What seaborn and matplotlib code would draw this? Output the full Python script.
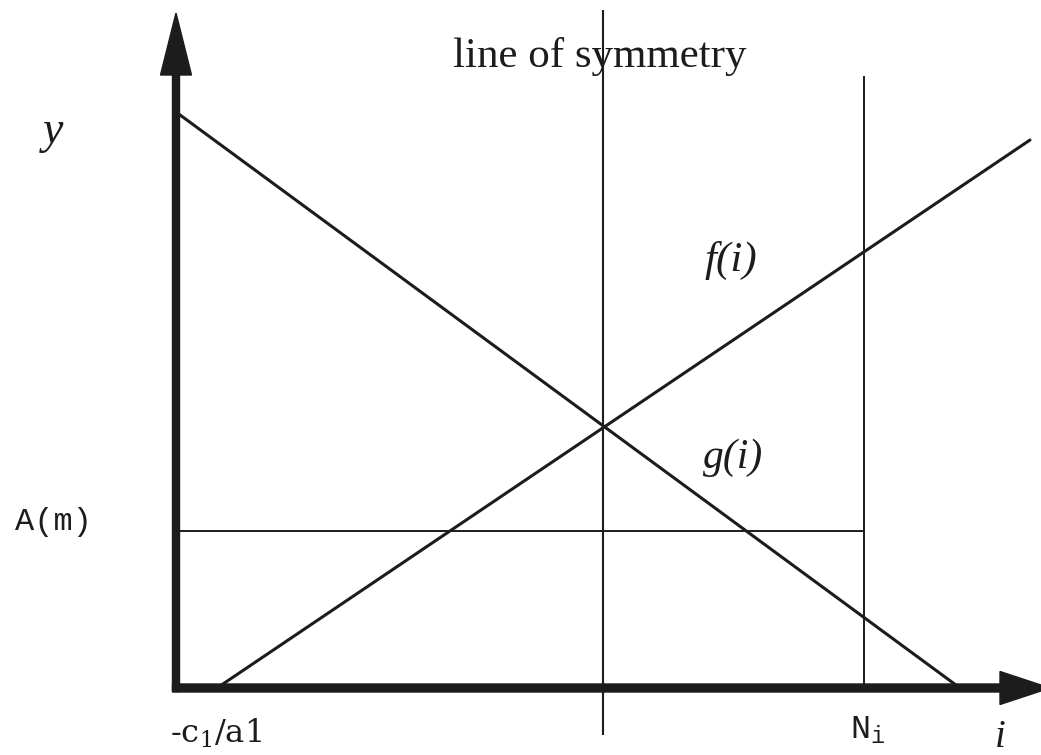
import matplotlib
matplotlib.use('Agg')
import matplotlib.pyplot as plt
import seaborn as sns

# diagram values (i along the horizontal axis, y up)
g_i = [0.0, 7.84]
g_y = [5.76, 0.0]
f_i = [0.41, 8.54]
f_y = [0.0, 5.48]

sym_i = 4.27
sym_y = [-0.47, 6.78]
N_i = 6.88
N_top = 6.12
A_m = 1.57

y_axis_top = 6.75
i_axis_end = 8.74

sns.set_theme(style='white')
plt.rcParams['font.family'] = ['Liberation Serif', 'DejaVu Serif']
plt.rcParams['mathtext.fontset'] = 'custom'
plt.rcParams['mathtext.rm'] = 'DejaVu Serif'
plt.rcParams['mathtext.tt'] = 'Liberation Mono'

ink = '#1c1c1c'

fig = plt.figure(figsize=(10.41, 7.55), dpi=100)
ax = fig.add_axes([0, 0, 1, 1])
ax.set_xlim(-1.76, 8.65)
ax.set_ylim(-0.67, 6.88)
ax.axis('off')

# f(i) and g(i)
sns.lineplot(x=f_i, y=f_y, color=ink, lw=2.2, ax=ax, estimator=None, sort=False)
sns.lineplot(x=g_i, y=g_y, color=ink, lw=2.2, ax=ax, estimator=None, sort=False)

# line of symmetry, N_i and A(m)
ax.vlines(sym_i, sym_y[0], sym_y[1], color=ink, lw=1.5)
ax.vlines(N_i, 0, N_top, color=ink, lw=1.4)
ax.hlines(A_m, 0, N_i, color=ink, lw=1.4)

# axes with arrow heads
ax.arrow(0, -0.035, 0, y_axis_top + 0.035, width=0.07, head_width=0.31,
         head_length=0.62, length_includes_head=True, color=ink)
ax.arrow(-0.035, 0, i_axis_end + 0.035, 0, width=0.08, head_width=0.33,
         head_length=0.5, length_includes_head=True, color=ink)

# labels
ax.text(4.24, 6.21, 'line of symmetry', fontsize=31, ha='center',
        va='baseline', color=ink)
ax.text(-1.33, 5.45, 'y', fontsize=33, style='italic', va='baseline', color=ink)
ax.text(5.29, 4.17, 'f(i)', fontsize=31, style='italic', va='baseline', color=ink)
ax.text(5.27, 2.20, 'g(i)', fontsize=30, style='italic', va='baseline', color=ink)
ax.text(-1.61, 1.66, 'A(m)', fontsize=23, family='Liberation Mono',
        va='center', color=ink)
ax.text(-0.06, -0.55, r'-c$_\mathrm{1}$/a1', fontsize=23, family='DejaVu Serif',
        va='baseline', color=ink)
ax.text(6.74, -0.50, r'N$_\mathtt{i}$', fontsize=24, family='Liberation Mono',
        va='baseline', color=ink)
ax.text(8.19, -0.59, 'i', fontsize=28, style='italic', va='baseline', color=ink)

fig.savefig('out.png', dpi=100)
